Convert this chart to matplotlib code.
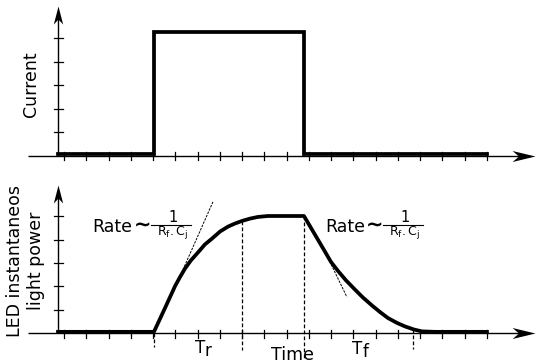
import matplotlib
matplotlib.use("Agg")
import matplotlib.pyplot as plt
from matplotlib.path import Path

plt.rcParams['font.family'] = ['DejaVu Sans']

# time axis tick positions (same for both panels)
tick_t = [0.27 + i for i in range(20)]
level_ticks = [1, 2, 3, 4, 5]

# drive current: a single square pulse
current_t = [0, 4.31, 4.31, 11.05, 11.05, 19.27]
current_v = [0.07, 0.07, 5.26, 5.26, 0.07, 0.07]

# LED light output: slow rise, plateau, slow fall
light_t = [0, 4.31, 4.81, 5.26, 5.48, 5.71, 5.97, 6.29, 6.60, 6.92, 7.28, 7.64,
           7.95, 8.27, 8.63, 8.98, 9.43,
           11.05, 11.99, 12.26, 12.58, 12.94, 13.34, 13.70, 14.11, 14.47, 14.82,
           15.23, 15.59, 15.99, 16.35, 16.94, 19.27]
light_v = [0.07, 0.07, 1.09, 2.02, 2.40, 2.77, 3.11, 3.45, 3.79, 4.04, 4.34, 4.55,
           4.68, 4.79, 4.89, 4.96, 5.0,
           5.0, 3.49, 3.05, 2.66, 2.26, 1.87, 1.53, 1.19, 0.91, 0.66,
           0.45, 0.30, 0.17, 0.09, 0.07, 0.07]

# initial slope tangents
rise_tan_t = [5.35, 6.96]
rise_tan_v = [2.15, 5.6]
fall_tan_t = [11.99, 12.98]
fall_tan_v = [3.49, 1.55]

# vertical markers bounding Tr and Tf
mark_t = [4.31, 8.27, 11.05, 15.93]
mark_top = [0, 4.79, 5.0, 0.2]
mark_bottom = [-0.57, -0.7, -1.13, -0.66]

FS = 12.5

# stealth arrow head, tip at the origin pointing +x
head = Path([(0, 0), (-1, 0.24), (-0.72, 0), (-1, -0.24), (0, 0)],
            [Path.MOVETO, Path.LINETO, Path.LINETO, Path.LINETO, Path.CLOSEPOLY])
head_up = Path([(0, 0), (-0.26, -1), (0, -0.72), (0.26, -1), (0, 0)],
               [Path.MOVETO, Path.LINETO, Path.LINETO, Path.LINETO, Path.CLOSEPOLY])


def draw_axes(ax, ytip):
    # horizontal time axis with arrow
    ax.plot([-1.35, 20.9], [0, 0], color='black', lw=1.0, solid_capstyle='butt')
    ax.plot([21.43], [0], marker=head, markersize=33, color='black', mew=0)
    # vertical axis with arrow
    ax.plot([0, 0], [0, ytip - 0.4], color='black', lw=1.0, solid_capstyle='butt')
    ax.plot([0], [ytip], marker=head_up, markersize=26, color='black', mew=0)
    for t in tick_t:
        ax.plot([t, t], [0.15, -0.2], color='black', lw=0.9)
    for v in level_ticks:
        ax.plot([-0.165, 0.24], [v, v], color='black', lw=0.9)


def rate_label(ax, x_rate):
    ax.text(x_rate, 4.34, 'Rate', fontsize=FS, ha='left', va='baseline')
    ax.text(x_rate + 1.83, 4.36, '\u223c', fontsize=15, fontweight='bold',
            ha='left', va='baseline')
    x_bar0, x_bar1 = x_rate + 2.6, x_rate + 4.4
    ax.plot([x_bar0, x_bar1], [4.6, 4.6], color='black', lw=0.8)
    xc = (x_bar0 + x_bar1) / 2 + 0.1
    ax.text(xc, 4.76, '1', fontsize=10.5, ha='center', va='baseline')
    ax.text(xc, 4.2, r'$\mathregular{R_f.C_j}$', fontsize=9, ha='center', va='baseline')


fig = plt.figure(figsize=(5.36, 3.64), dpi=100)

ax1 = fig.add_axes([0, 184 / 364, 1, 180 / 364])
ax1.set_xlim(-2.606, 21.474)
ax1.set_ylim(-1.034, 6.626)
ax1.axis('off')
draw_axes(ax1, 6.37)
ax1.plot(current_t, current_v, color='black', lw=2.7, solid_joinstyle='miter')
ax1.text(-1.2, 3.05, 'Current', fontsize=FS, rotation=90, ha='center', va='center')

ax2 = fig.add_axes([0, 0, 1, 184 / 364])
ax2.set_xlim(-2.606, 21.474)
ax2.set_ylim(-1.298, 6.532)
ax2.axis('off')
draw_axes(ax2, 6.32)
ax2.plot(light_t, light_v, color='black', lw=2.7, solid_joinstyle='round')
ax2.plot(rise_tan_t, rise_tan_v, color='black', lw=0.7, dashes=(2.5, 1.2))
ax2.plot(fall_tan_t, fall_tan_v, color='black', lw=0.7, dashes=(2.5, 1.2))
for t, top, bot in zip(mark_t, mark_top, mark_bottom):
    ax2.plot([t, t], [top, bot], color='black', lw=0.9, dashes=(3, 1.8))

rate_label(ax2, 1.557)
rate_label(ax2, 11.99)

ax2.text(-1.45, 3.1, 'LED instantaneos\nlight power', fontsize=FS, rotation=90,
         ha='center', va='center', linespacing=1.25, multialignment='center')

ax2.text(6.15, -0.83, 'T', fontsize=12, ha='left', va='baseline', clip_on=False)
ax2.text(6.6, -0.96, 'r', fontsize=12, ha='left', va='baseline', clip_on=False)
ax2.text(13.19, -0.87, 'T', fontsize=12, ha='left', va='baseline', clip_on=False)
ax2.text(13.67, -1.0, 'f', fontsize=12, ha='left', va='baseline', clip_on=False)
ax2.text(9.57, -1.12, 'Time', fontsize=FS, ha='left', va='baseline', clip_on=False)

fig.savefig('out.png', dpi=100)
